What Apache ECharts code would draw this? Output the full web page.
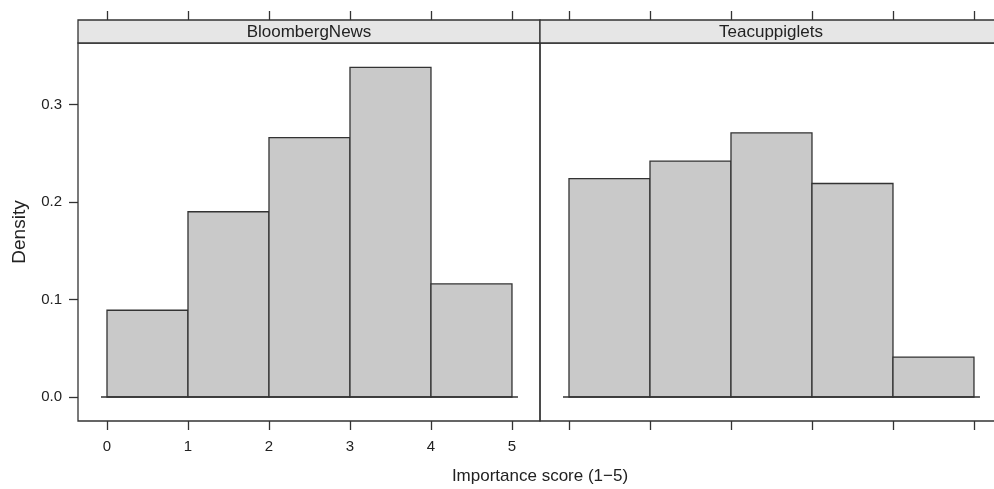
<!DOCTYPE html>
<html>
<head>
<meta charset="utf-8">
<script src="https://cdn.jsdelivr.net/npm/echarts@6/dist/echarts.min.js"></script>
<style>html,body{margin:0;padding:0;background:#fff}#c{width:994px;height:489px}</style>
</head>
<body>
<div id="c"></div>
<script>
const bins = [0, 1, 2, 3, 4, 5];
const bloombergDensity = [0.089, 0.190, 0.266, 0.338, 0.116];
const teacupDensity = [0.224, 0.242, 0.271, 0.219, 0.041];
const panelTitles = ['BloombergNews', 'Teacuppiglets'];
const xTicks = [0, 1, 2, 3, 4, 5];
const yTicks = [0, 0.1, 0.2, 0.3];
const xTitle = 'Importance score (1\u22125)';
const yTitle = 'Density';

const FONT = '"Liberation Sans", Arial, sans-serif';
const INK = '#333';
const TXT = '#222';
const XMIN = -0.358, XMAX = 5.346, YMIN = -0.0246, YMAX = 0.3631;

function histData(d) { return d.map((v, i) => [bins[i], bins[i + 1], v]); }

function renderBar(params, api) {
  const p0 = api.coord([api.value(0), api.value(2)]);
  const p1 = api.coord([api.value(1), 0]);
  return {
    type: 'rect',
    shape: { x: p0[0], y: p0[1], width: p1[0] - p0[0], height: p1[1] - p0[1] },
    style: { fill: '#c9c9c9', stroke: INK, lineWidth: 1.3 }
  };
}

const chart = echarts.init(document.getElementById('c'), null, { renderer: 'canvas' });

function bottomAxis(gi, showLabels) {
  return {
    type: 'value', gridIndex: gi, position: 'bottom', min: XMIN, max: XMAX,
    axisLine: { show: false, onZero: false }, splitLine: { show: false },
    axisTick: { show: true, inside: false, length: 9, customValues: xTicks, lineStyle: { color: INK, width: 1.3 } },
    axisLabel: { show: showLabels, customValues: xTicks, margin: 18, color: TXT, fontSize: 15, fontFamily: FONT, formatter: v => String(v) }
  };
}
function topAxis(gi) {
  return {
    type: 'value', gridIndex: gi, position: 'top', offset: 23, min: XMIN, max: XMAX,
    axisLine: { show: false, onZero: false }, splitLine: { show: false },
    axisTick: { show: true, inside: false, length: 9, customValues: xTicks, lineStyle: { color: INK, width: 1.3 } },
    axisLabel: { show: false }
  };
}

const gridBase = { top: 43, width: 462, height: 378, show: true, borderColor: INK, borderWidth: 1.3, backgroundColor: 'transparent', containLabel: false, outerBoundsMode: 'none' };

const option = {
  animation: false,
  backgroundColor: '#fff',
  grid: [
    Object.assign({ left: 78 }, gridBase),
    Object.assign({ left: 540 }, gridBase)
  ],
  xAxis: [bottomAxis(0, true), bottomAxis(1, false), topAxis(0), topAxis(1)],
  yAxis: [
    {
      type: 'value', gridIndex: 0, min: YMIN, max: YMAX,
      axisLine: { show: false, onZero: false }, splitLine: { show: false },
      axisTick: { show: true, length: 9, customValues: yTicks, lineStyle: { color: INK, width: 1.3 } },
      axisLabel: { customValues: yTicks, margin: 16, color: TXT, fontSize: 15, fontFamily: FONT, formatter: v => v.toFixed(1) }
    },
    {
      type: 'value', gridIndex: 1, min: YMIN, max: YMAX,
      axisLine: { show: false, onZero: false }, splitLine: { show: false },
      axisTick: { show: false }, axisLabel: { show: false }
    }
  ],
  graphic: [
    { type: 'rect', shape: { x: 78, y: 20, width: 462, height: 23 }, style: { fill: '#e6e6e6', stroke: INK, lineWidth: 1.3 }, z: 10 },
    { type: 'rect', shape: { x: 540, y: 20, width: 462, height: 23 }, style: { fill: '#e6e6e6', stroke: INK, lineWidth: 1.3 }, z: 10 },
    { type: 'text', x: 309, y: 32, style: { text: panelTitles[0], fill: TXT, font: '17px ' + FONT, textAlign: 'center', textVerticalAlign: 'middle' }, z: 11 },
    { type: 'text', x: 771, y: 32, style: { text: panelTitles[1], fill: TXT, font: '17px ' + FONT, textAlign: 'center', textVerticalAlign: 'middle' }, z: 11 },
    { type: 'text', x: 540, y: 476, style: { text: xTitle, fill: TXT, font: '17px ' + FONT, textAlign: 'center', textVerticalAlign: 'middle' } },
    { type: 'text', x: 20, y: 232, rotation: Math.PI / 2, style: { text: yTitle, fill: TXT, font: '19px ' + FONT, textAlign: 'center', textVerticalAlign: 'middle' } }
  ],
  series: [
    { type: 'custom', xAxisIndex: 0, yAxisIndex: 0, renderItem: renderBar, data: histData(bloombergDensity), z: 2 },
    { type: 'custom', xAxisIndex: 1, yAxisIndex: 1, renderItem: renderBar, data: histData(teacupDensity), z: 2 },
    { type: 'line', xAxisIndex: 0, yAxisIndex: 0, data: [[bins[0] - 0.074, 0], [bins[5] + 0.074, 0]], symbol: 'none', lineStyle: { color: INK, width: 1.3 }, z: 3, silent: true },
    { type: 'line', xAxisIndex: 1, yAxisIndex: 1, data: [[bins[0] - 0.074, 0], [bins[5] + 0.074, 0]], symbol: 'none', lineStyle: { color: INK, width: 1.3 }, z: 3, silent: true }
  ]
};
chart.setOption(option);
</script>
</body>
</html>
